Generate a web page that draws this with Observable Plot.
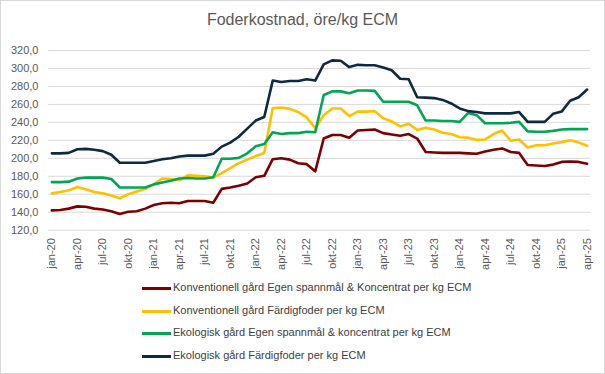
<!DOCTYPE html>
<html>
<head>
<meta charset="utf-8">
<script src="https://cdn.jsdelivr.net/npm/d3@7"></script>
<script src="https://cdn.jsdelivr.net/npm/@observablehq/plot@0.6"></script>
<style>
  html, body { margin: 0; padding: 0; background: #fff; }
  #frame { position: relative; width: 605px; height: 374px; box-sizing: border-box; border: 1px solid #d9d9d9; background: #fff; overflow: hidden; font-family: "Liberation Sans", Arial, sans-serif; }
  #title { position: absolute; left: 0; top: 10px; width: 603px; text-align: center; font-size: 16px; color: #595959; }
  #chart { position: absolute; left: -1px; top: 39px; }
  #legend { position: absolute; left: 141px; top: 279px; }
  .item { position: absolute; left: 0; height: 16px; white-space: nowrap; font-size: 11px; color: #404040; }
  .sw { position: absolute; left: 0; top: 7px; width: 29px; height: 3px; }
  .lt { position: absolute; left: 31px; top: 1px; }
</style>
</head>
<body>
<div id="frame">
  <div id="title">Foderkostnad, öre/kg ECM</div>
  <div id="chart"></div>
  <div id="legend"></div>
</div>
<script>
const months = [
  "jan-20","feb-20","mar-20","apr-20","maj-20","jun-20","jul-20","aug-20","sep-20","okt-20","nov-20","dec-20",
  "jan-21","feb-21","mar-21","apr-21","maj-21","jun-21","jul-21","aug-21","sep-21","okt-21","nov-21","dec-21",
  "jan-22","feb-22","mar-22","apr-22","maj-22","jun-22","jul-22","aug-22","sep-22","okt-22","nov-22","dec-22",
  "jan-23","feb-23","mar-23","apr-23","maj-23","jun-23","jul-23","aug-23","sep-23","okt-23","nov-23","dec-23",
  "jan-24","feb-24","mar-24","apr-24","maj-24","jun-24","jul-24","aug-24","sep-24","okt-24","nov-24","dec-24",
  "jan-25","feb-25","mar-25","apr-25"
];

const tickLabels = [
  "jan-20","apr-20","jul-20","okt-20","jan-21","apr-21","jul-21","okt-21",
  "jan-22","apr-22","jul-22","okt-22","jan-23","apr-23","jul-23","okt-23",
  "jan-24","apr-24","jul-24","okt-24","jan-25","apr-25"
];

const yTicks = [120, 140, 160, 180, 200, 220, 240, 260, 280, 300, 320];

const seriesNames = [
  "Konventionell gård Egen spannmål & Koncentrat per kg ECM",
  "Konventionell gård Färdigfoder per kg ECM",
  "Ekologisk gård Egen spannmål & koncentrat per kg ECM",
  "Ekologisk gård Färdigfoder per kg ECM"
];

const seriesColors = ["#7b0000", "#ffc000", "#00a651", "#0e2a40"];

const konvEgen = [
  142, 142.5, 144, 146.5, 146, 144, 143, 141, 138, 140.5, 141, 144,
  148, 150, 150.5, 150, 152.5, 152.5, 152.5, 150.5, 166, 167.5, 169.5, 172,
  179, 180.5, 199, 200, 198.5, 194.5, 193.5, 185.5, 222, 226, 226, 223,
  231, 231.5, 232, 228, 226.5, 225, 227, 222, 207, 206.5, 206, 206,
  206, 205.5, 205, 207.5, 209.5, 211, 207, 206, 192.5, 192, 191.5, 193,
  196, 196.5, 196, 194
];

const konvFard = [
  161, 162.5, 164.5, 168, 165.5, 162.5, 161, 158.5, 155.5, 160, 163, 166,
  171, 177.5, 177, 175.5, 181, 180.5, 180, 178.5, 183.5, 189, 194.5, 198.5,
  202.5, 206, 256, 256.5, 255, 251.5, 245.5, 233.5, 248, 255.5, 255.5, 247,
  252, 252, 252.5, 244.5, 241, 235.5, 238.5, 231.5, 234, 232, 228.5, 227,
  223.5, 223, 220.5, 221, 227, 231, 219.5, 221, 212, 214.5, 214.5, 216.5,
  218, 220, 217.5, 214
];

const ekoEgen = [
  173.5, 173.5, 174, 177.5, 178.5, 178.5, 178.5, 177, 167.5, 167.5, 167.5, 167.5,
  171, 173, 175, 177.5, 178, 177.5, 177.5, 179, 199.5, 199.5, 200.5, 205.5,
  213.5, 216, 229, 227, 228, 228, 229.5, 229, 270.5, 274.5, 274.5, 272.5,
  275.5, 275.5, 275, 263, 263, 263, 263, 259, 242, 242, 241.5, 241.5,
  240.5, 250.5, 248, 239, 239, 239, 239.5, 240.5, 230, 229.5, 229.5, 230.5,
  232, 232.5, 232.5, 232.5
];

const ekoFard = [
  205.5, 205.5, 206, 210, 210.5, 209.5, 208, 204, 195, 195, 195, 195,
  197, 199, 200, 202, 203, 203, 203, 205, 213, 217.5, 224, 233,
  242, 246, 286.5, 285, 286, 286, 288, 286.5, 304.5, 309, 308.5, 301.5,
  304, 303.5, 303.5, 301, 298, 288.5, 288, 268, 267.5, 267, 265, 261,
  255.5, 252.5, 251.5, 250, 250, 250, 250, 251.5, 240.5, 240.5, 240.5, 249.5,
  252, 264, 268, 276.5
];

const seriesValues = [konvEgen, konvFard, ekoEgen, ekoFard];

const data = seriesNames.flatMap((name, s) =>
  months.map((m, i) => ({ series: name, month: m, value: seriesValues[s][i] }))
);

const fmt = d => d.toFixed(1).replace(".", ",");

const chart = Plot.plot({
  width: 605,
  height: 236,
  marginTop: 10,
  marginBottom: 46,
  marginLeft: 48,
  marginRight: 14,
  style: { fontFamily: "'Liberation Sans', Arial, sans-serif", fontSize: "11px", color: "#595959", background: "transparent", overflow: "visible" },
  x: { type: "point", domain: months, padding: 0.4, label: null },
  y: { domain: [120, 320], label: null },
  color: { domain: seriesNames, range: seriesColors },
  marks: [
    Plot.gridY(yTicks, { stroke: "#d9d9d9", strokeOpacity: 1, strokeWidth: 1 }),
    Plot.axisY(yTicks, { tickSize: 0, tickPadding: 10, tickFormat: fmt, label: null, fill: "#595959" }),
    Plot.axisX(tickLabels, { tickSize: 0, tickRotate: -90, tickPadding: 8, label: null, fill: "#595959" }),
    Plot.lineY(data, { x: "month", y: "value", z: "series", stroke: "series", strokeWidth: 2.6 })
  ]
});
document.getElementById("chart").appendChild(chart);

const legend = document.getElementById("legend");
const rowTops = [0, 23, 45, 68];
seriesNames.forEach((name, i) => {
  const item = document.createElement("div");
  item.className = "item";
  item.style.top = rowTops[i] + "px";
  const sw = document.createElement("div");
  sw.className = "sw";
  sw.style.background = seriesColors[i];
  const lt = document.createElement("div");
  lt.className = "lt";
  lt.textContent = name;
  item.appendChild(sw);
  item.appendChild(lt);
  legend.appendChild(item);
});
</script>
</body>
</html>
